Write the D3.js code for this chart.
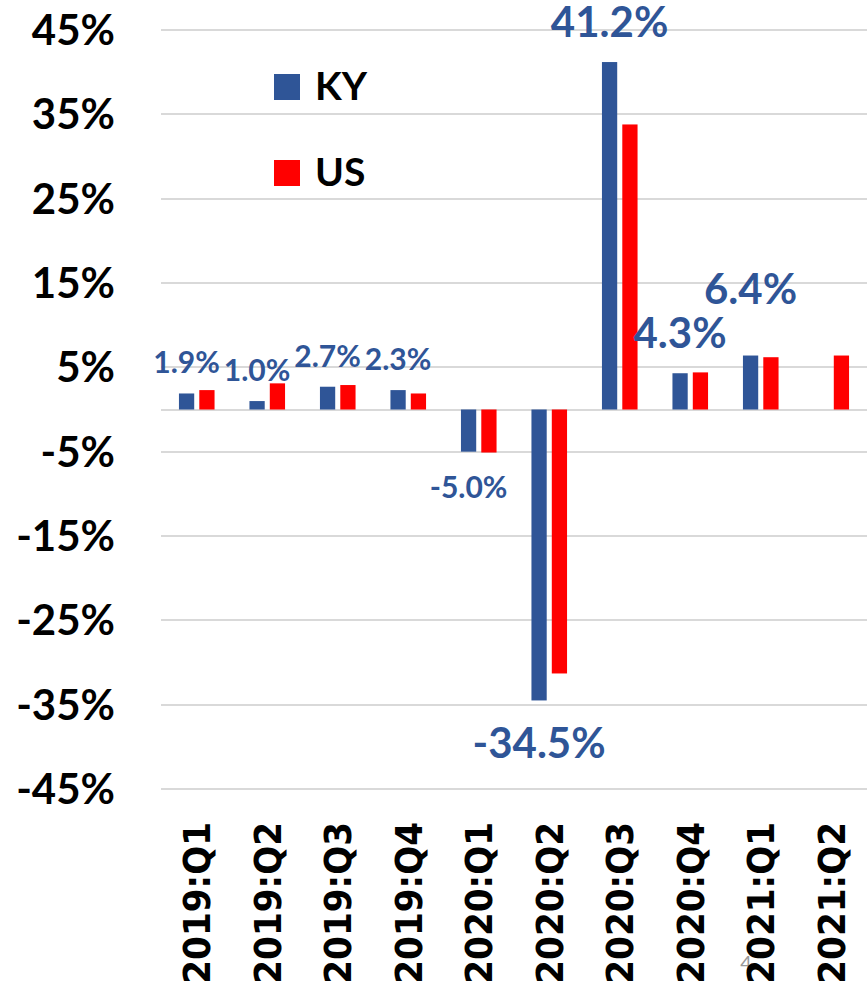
<!DOCTYPE html>
<html>
<head>
<meta charset="utf-8">
<script src="https://cdn.jsdelivr.net/npm/d3@7"></script>
<style>
body { margin: 0; background: #fff; }
svg { display: block; }
.grid line { stroke: #d9d9d9; stroke-width: 2px; shape-rendering: crispEdges; }
.ytick { font-family: Lato, "Open Sans", sans-serif; font-weight: bold; font-size: 42px; fill: #000; }
.xtick { font-family: "DejaVu Sans Condensed", "DejaVu Sans", sans-serif; font-weight: bold; font-size: 38px; fill: #000; }
.lbl { font-family: Lato, "Open Sans", sans-serif; font-weight: bold; fill: #2f5597; }
.leg { font-family: Lato, "Open Sans", sans-serif; font-weight: bold; font-size: 39px; fill: #000; }
</style>
</head>
<body>
<svg id="chart" width="867" height="989"></svg>
<script>

// quarters and growth rates (%)
var quarters = ["2019:Q1", "2019:Q2", "2019:Q3", "2019:Q4", "2020:Q1",
                "2020:Q2", "2020:Q3", "2020:Q4", "2021:Q1", "2021:Q2"];
var ky = [1.9, 1.0, 2.7, 2.3, -5.0, -34.5, 41.2, 4.3, 6.4, null];
var us = [2.3, 3.1, 2.9, 1.9, -5.1, -31.3, 33.8, 4.4, 6.2, 6.4];
var series = ["KY", "US"];
var yTicks = [45, 35, 25, 15, 5, -5, -15, -25, -35, -45];

// where each KY data label sits (vertical shift from bar end, font size)
var labelShift = [-20, -20, -20, -20, 46, 58, -25, -25, -52, 0];
var labelSize  = [30, 30, 30, 30, 30, 42, 42, 42, 42, 0];

var color = d3.scaleOrdinal().domain(series).range(["#2f5597", "#ff0000"]);

var svg = d3.select("#chart");

var x = d3.scaleBand()
    .domain(quarters)
    .range([161.5, 866.5])
    .paddingInner(0.495)
    .paddingOuter(0.2475);

var x1 = d3.scaleBand()
    .domain(series)
    .range([0, x.bandwidth()])
    .paddingInner(0.25);

var y = d3.scaleLinear()
    .domain([-45, 45])
    .range([789, 30]);

// gridlines
svg.append("g").attr("class", "grid")
  .selectAll("line")
  .data(yTicks.concat([0]))
  .enter().append("line")
    .attr("x1", 161)
    .attr("x2", 867)
    .attr("y1", function(d){ return Math.round(y(d)); })
    .attr("y2", function(d){ return Math.round(y(d)); });

// y tick labels
svg.selectAll(".ytick")
  .data(yTicks)
  .enter().append("text")
    .attr("class", "ytick")
    .attr("text-anchor", "end")
    .attr("x", 115)
    .attr("y", function(d){ return y(d); })
    .attr("dy", "0.36em")
    .text(function(d){ return d + "%"; });

// slide number left over from the deck
svg.append("text")
    .attr("x", 746)
    .attr("y", 970)
    .attr("text-anchor", "middle")
    .style("font-family", "Lato, sans-serif")
    .style("font-size", "20px")
    .style("fill", "#999")
    .text("4");

// x tick labels, rotated
svg.selectAll(".xtick")
  .data(quarters)
  .enter().append("text")
    .attr("class", "xtick")
    .attr("text-anchor", "end")
    .attr("transform", function(d){
        return "translate(" + (x(d) + x.bandwidth() / 2) + ",822) rotate(-90)";
    })
    .attr("dy", "0.36em")
    .text(function(d){ return d; });

// bars
var rows = quarters.map(function(q, i){
    return { q: q, values: [{ k: "KY", v: ky[i] }, { k: "US", v: us[i] }] };
});

var groups = svg.selectAll("g.bars")
  .data(rows)
  .enter().append("g")
    .attr("class", "bars")
    .attr("transform", function(d){ return "translate(" + x(d.q) + ",0)"; });

groups.selectAll("rect")
  .data(function(d){ return d.values.filter(function(e){ return e.v !== null; }); })
  .enter().append("rect")
    .attr("x", function(d){ return x1(d.k); })
    .attr("width", x1.bandwidth())
    .attr("y", function(d){ return y(Math.max(0, d.v)); })
    .attr("height", function(d){ return Math.abs(y(d.v) - y(0)); })
    .attr("fill", function(d){ return color(d.k); });

// KY data labels
svg.selectAll(".lbl")
  .data(ky.map(function(v, i){ return { v: v, i: i }; })
          .filter(function(d){ return d.v !== null; }))
  .enter().append("text")
    .attr("class", "lbl")
    .attr("text-anchor", "middle")
    .attr("x", function(d){ return x(quarters[d.i]) + x1("KY") + x1.bandwidth() / 2; })
    .attr("y", function(d){ return y(d.v) + labelShift[d.i]; })
    .style("font-size", function(d){ return labelSize[d.i] + "px"; })
    .text(function(d){ return d.v.toFixed(1) + "%"; });

// legend
var legend = svg.selectAll(".legend")
  .data(series)
  .enter().append("g")
    .attr("class", "legend")
    .attr("transform", function(d, i){ return "translate(274," + (74 + i * 86) + ")"; });

legend.append("rect")
    .attr("width", 26)
    .attr("height", 26)
    .attr("fill", function(d){ return color(d); });

legend.append("text")
    .attr("class", "leg")
    .attr("x", 41)
    .attr("y", 26)
    .text(function(d){ return d; });

</script>
</body>
</html>
